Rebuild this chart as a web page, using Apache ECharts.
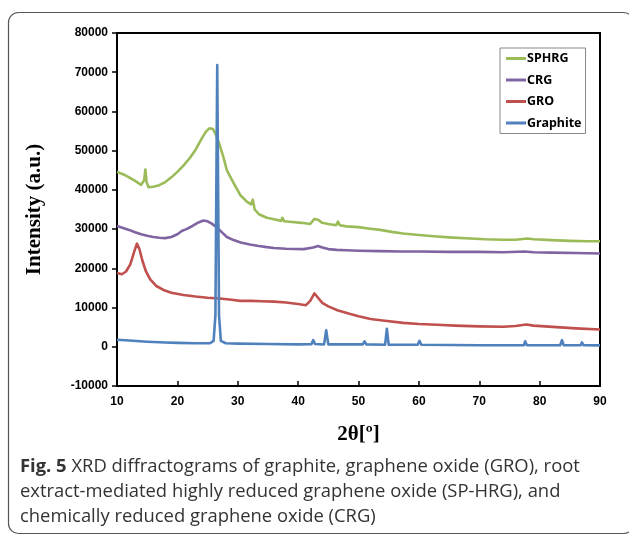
<!DOCTYPE html>
<html>
<head>
<meta charset="utf-8">
<script src="https://cdn.jsdelivr.net/npm/echarts@6/dist/echarts.min.js"></script>
<style>
html,body{margin:0;padding:0;background:#fff;}
#chart{width:629px;height:538px;}
</style>
</head>
<body>
<div id="chart"></div>
<script>
// ---- data (2θ in degrees, intensity in a.u.) ----
var seriesNames = ['SPHRG', 'CRG', 'GRO', 'Graphite'];
var xTicks = [10, 20, 30, 40, 50, 60, 70, 80, 90];
var yTicks = [-10000, 0, 10000, 20000, 30000, 40000, 50000, 60000, 70000, 80000];

var sphrg = [[10,44600],[11,44000],[12,43200],[13,42300],[14,41300],[14.5,42500],[14.7,45200],[14.9,42000],[15.2,40700],[16,40800],[17,41200],[18,42000],[19,43200],[20,44600],[21,46200],[22,48000],[23,50200],[24,53000],[24.7,54800],[25.3,55700],[25.9,55500],[26.4,54000],[27,51500],[27.6,48500],[28.2,45000],[29.3,41800],[30.4,38700],[31.5,37000],[32.2,36300],[32.5,37500],[32.8,35000],[33.5,33800],[34.8,32900],[36,32500],[37.2,32100],[37.4,32900],[37.7,32000],[39,31800],[40.6,31600],[42,31300],[42.7,32600],[43.3,32400],[44,31600],[45,31300],[46.3,31000],[46.6,31900],[46.9,31000],[48,30700],[50,30500],[51.9,30100],[53.6,29800],[55.5,29300],[57.4,28900],[60,28500],[63,28100],[65,27900],[68.5,27600],[71,27400],[73.9,27300],[76,27300],[78,27600],[79,27400],[82,27200],[85,27000],[88,26900],[90,26900]];

var crg = [[10,30800],[11,30300],[12,29800],[13,29200],[14,28700],[15,28300],[16,28000],[17,27800],[18,27700],[19,28000],[20,28700],[20.8,29600],[21.5,30000],[22.5,30800],[23.5,31700],[24.3,32200],[25,32000],[25.7,31400],[26.5,30500],[27.3,29300],[28.2,28000],[29.3,27200],[30.5,26600],[32,26100],[33.5,25700],[34.8,25400],[36,25200],[38,25000],[40.9,24900],[42.5,25300],[43.3,25700],[44,25300],[45,24900],[46.4,24700],[48,24600],[50,24500],[53.6,24400],[57,24300],[60,24300],[65,24200],[70,24200],[74,24100],[77.5,24300],[79,24100],[82,24000],[86,23900],[90,23800]];

var gro = [[10,18800],[10.8,18500],[11.5,19200],[12.2,21000],[12.8,24000],[13.3,26300],[13.7,25000],[14.2,22000],[14.8,19200],[15.5,17200],[16.5,15500],[17.7,14500],[19,13800],[21,13200],[23,12800],[25,12500],[27,12300],[29,12000],[30.4,11700],[31.7,11700],[31.9,12200],[32.2,11700],[34,11600],[36,11500],[38,11300],[40,10900],[41.3,10600],[42,11700],[42.7,13600],[43.3,12500],[44,11200],[45,10300],[46.5,9300],[48.5,8400],[50,7800],[52,7100],[54,6700],[57.4,6100],[60,5800],[63,5600],[66,5400],[70,5200],[74,5100],[76,5300],[77.8,5700],[79,5400],[82.8,5000],[86,4700],[90,4400]];

var graphite = [[10,1800],[12,1600],[15,1300],[18,1100],[20,1000],[23,900],[25.4,900],[26,1500],[26.3,8000],[26.45,40000],[26.6,71800],[26.75,40000],[26.9,8000],[27.2,1500],[28,900],[30,800],[35,700],[40,600],[42.2,650],[42.5,1700],[42.8,700],[44.3,600],[44.65,4200],[45,600],[50.7,600],[51,1400],[51.3,600],[54.4,500],[54.7,4600],[55,500],[59.8,500],[60.1,1500],[60.4,500],[70,400],[77.4,400],[77.6,1400],[77.9,400],[83.4,400],[83.7,1700],[84,400],[86.8,400],[87,1100],[87.3,400],[90,350]];

var seriesData = [sphrg, crg, gro, graphite];
var colors = ['#9BBB59', '#8064A2', '#C0504D', '#4F81BD'];

var captionLines = [
  ['Fig. 5', ' XRD diffractograms of graphite, graphene oxide (GRO), root'],
  ['', 'extract-mediated highly reduced graphene oxide (SP-HRG), and'],
  ['', 'chemically reduced graphene oxide (CRG)']
];

var chart = echarts.init(document.getElementById('chart'), null, {renderer: 'canvas'});

var graphics = [{
  type: 'rect',
  shape: {x: 8.5, y: 12.5, width: 625, height: 521, r: 10},
  style: {fill: 'none', stroke: '#555', lineWidth: 1.2},
  silent: true
}];
captionLines.forEach(function (ln, i) {
  graphics.push({
    type: 'text',
    left: 20,
    top: 458 + i * 25,
    style: {
      text: (ln[0] ? '{b|' + ln[0] + '}' : '') + '{r|' + ln[1] + '}',
      rich: {
        b: {fontFamily: 'Open Sans', fontWeight: 'bold', fontSize: 18.4, fill: '#333'},
        r: {fontFamily: 'Open Sans', fontWeight: 'normal', fontSize: 18.4, fill: '#333'}
      }
    }
  });
});

chart.setOption({
  animation: false,
  backgroundColor: '#fff',
  color: colors,
  grid: {left: 117, right: 29, top: 33, bottom: 152, show: true, borderColor: '#000', borderWidth: 2, backgroundColor: 'transparent'},
  legend: {
    data: seriesNames,
    orient: 'vertical',
    left: 500,
    top: 48,
    itemWidth: 20,
    itemHeight: 3,
    itemGap: 8.5,
    padding: [4, 4, 4, 6],
    borderColor: '#888',
    borderWidth: 1,
    icon: 'rect',
    textStyle: {fontFamily: 'Noto Sans', fontWeight: 'bold', fontSize: 12.5, color: '#000', padding: [0, 0, 0, -4]}
  },
  xAxis: {
    type: 'value',
    min: xTicks[0],
    max: xTicks[xTicks.length - 1],
    interval: 10,
    name: '2θ[º]',
    nameLocation: 'middle',
    nameGap: 38,
    nameTextStyle: {fontFamily: 'Liberation Serif', fontWeight: 'bold', fontSize: 21, color: '#000'},
    axisLine: {show: true, onZero: false, lineStyle: {color: '#000', width: 2}},
    axisTick: {show: true, inside: true, length: 5, lineStyle: {color: '#000', width: 1.5}},
    axisLabel: {fontFamily: 'Liberation Sans', fontWeight: 'bold', fontSize: 12, color: '#000', margin: 10},
    splitLine: {show: false}
  },
  yAxis: {
    type: 'value',
    min: yTicks[0],
    max: yTicks[yTicks.length - 1],
    interval: 10000,
    name: 'Intensity (a.u.)',
    nameLocation: 'middle',
    nameGap: 72,
    nameTextStyle: {fontFamily: 'Liberation Serif', fontWeight: 'bold', fontSize: 21, color: '#000'},
    axisLine: {show: true, onZero: false, lineStyle: {color: '#000', width: 2}},
    axisTick: {show: true, inside: false, length: 5, lineStyle: {color: '#000', width: 1.5}},
    axisLabel: {fontFamily: 'Liberation Sans', fontWeight: 'bold', fontSize: 12, color: '#000', margin: 9,
      formatter: function (v) { return String(v); }},
    splitLine: {show: false}
  },
  series: seriesNames.map(function (n, i) {
    return {
      name: n,
      type: 'line',
      data: seriesData[i],
      showSymbol: false,
      symbol: 'none',
      smooth: false,
      lineStyle: {width: 2.6, color: colors[i], join: 'round'},
      itemStyle: {color: colors[i]},
      z: 2 + i
    };
  }),
  graphic: graphics
});
</script>
</body>
</html>
